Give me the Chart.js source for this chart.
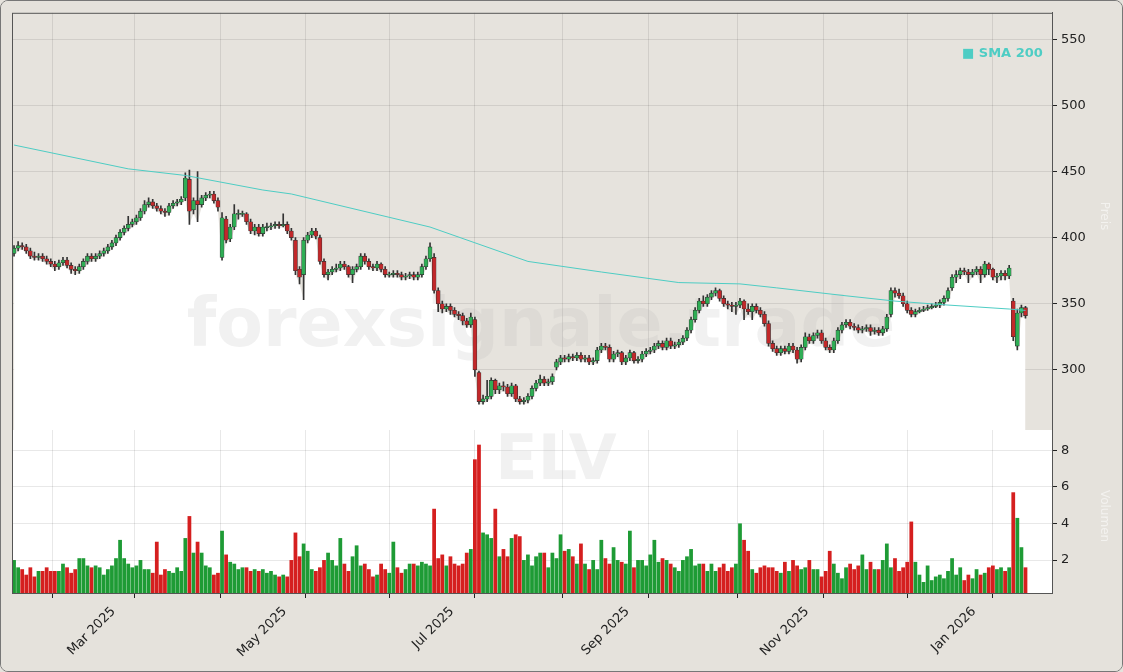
<!DOCTYPE html>
<html><head><meta charset="utf-8">
<script src="https://cdn.jsdelivr.net/npm/chart.js@4/dist/chart.umd.min.js"></script>
<style>
html,body{margin:0;padding:0;background:#e5e2dc;}
#wrap{position:relative;width:1123px;height:672px;box-sizing:border-box;border:1px solid #777;border-radius:8px;overflow:hidden;background:#e5e2dc;}
canvas{display:block;}
</style></head><body>
<div id="wrap"><canvas id="c" width="1121" height="670"></canvas></div>
<script>
const openP=[388,392,394,393,390,386,385,386,384,382,380,378,381,383,379,376,375,378,382,386,
384,386,388,390,393,396,400,404,407,410,412,415,420,425,427,424,422,420,419,424,
426,427,430,444,421,428,425,430,432,433,428,385,414,399,408,418,418,418,412,405,
408,403,408,408,409,410,409,410,405,398,376,372,398,402,405,400,382,372,374,376,
377,380,378,372,376,378,386,382,378,377,380,376,372,372,373,372,370,371,372,370,
372,378,384,385,360,350,346,348,345,342,341,337,334,338,298,276,278,280,292,285,
288,287,282,288,278,276,277,280,286,290,293,290,291,302,306,309,308,310,309,311,
308,309,306,307,315,318,317,308,312,313,306,309,313,307,308,312,314,315,318,320,
317,322,318,319,321,324,330,338,345,352,350,355,358,360,354,350,349,348,349,352,
346,344,348,345,342,335,320,316,313,316,314,318,315,308,317,325,322,326,328,322,
317,315,322,330,334,336,333,332,330,331,332,329,330,328,331,342,360,358,356,350,
345,342,344,345,346,347,348,349,351,354,362,370,372,375,374,372,374,376,372,380,
376,370,371,373,371,352,318,343,347];
const highP=[394,397,396,395,392,389,388,388,386,384,382,383,385,385,381,378,380,384,388,388,
388,390,392,395,398,402,406,409,416,414,417,422,428,430,429,426,424,422,426,428,
429,431,449,451,430,450,432,434,435,435,430,419,416,410,425,421,420,419,414,410,
410,410,411,411,412,412,418,412,407,400,378,400,404,407,407,402,384,376,378,380,
382,382,379,378,380,388,388,384,380,382,381,378,374,375,375,374,373,374,374,374,
380,386,396,388,362,352,350,350,347,344,343,339,343,340,299,281,292,294,293,290,
291,289,290,289,280,279,282,288,292,296,295,293,297,308,311,311,312,312,313,313,
311,311,309,317,320,320,319,314,315,314,311,315,314,310,314,316,317,320,322,322,
324,324,321,323,326,332,340,347,354,356,357,360,362,361,356,352,351,351,354,353,
350,350,350,347,344,337,322,318,318,318,320,320,317,319,328,327,328,330,330,324,
319,324,332,336,338,338,335,334,333,334,334,332,332,333,342,362,362,361,358,352,
347,346,347,348,349,350,351,353,356,362,372,375,377,377,376,376,378,378,382,381,
377,373,375,375,379,354,346,349,348];
const lowP=[386,390,391,388,384,383,383,382,380,378,375,376,379,377,373,372,373,376,380,382,
382,384,386,388,391,394,398,402,405,408,410,413,418,423,422,420,418,416,417,422,
424,425,428,410,418,412,423,428,430,426,420,383,396,397,406,414,416,410,403,402,
401,401,405,406,407,407,408,403,398,372,365,353,396,400,399,380,370,368,372,374,
375,376,370,366,374,376,380,376,375,375,374,370,370,370,370,368,368,369,368,368,
370,376,382,358,344,343,344,342,340,338,334,332,332,295,274,274,276,278,282,282,
284,280,280,276,274,274,275,278,284,288,288,288,289,300,304,306,306,307,307,306,
306,304,304,305,313,315,306,306,310,304,304,307,305,305,306,310,312,313,316,315,
315,316,316,317,319,322,328,336,343,348,348,353,356,352,348,346,344,342,347,338,
342,338,343,340,333,318,314,311,311,312,312,313,305,306,315,320,320,324,320,315,
313,313,320,328,332,331,330,328,328,329,326,327,326,326,329,340,355,354,348,343,
340,340,343,344,345,346,347,347,349,352,360,366,369,372,366,370,372,366,370,372,
368,366,368,368,369,322,315,340,339];
const closeP=[392,394,393,390,386,385,386,384,382,380,378,381,383,379,376,375,378,382,386,384,
386,388,390,393,396,400,404,407,410,412,415,420,425,427,424,422,420,419,424,426,
427,429,445,420,428,425,430,432,433,428,423,415,398,408,418,418,418,412,405,408,
403,408,408,409,410,409,410,405,400,375,370,398,402,405,401,382,372,374,376,377,
380,378,372,376,378,386,382,378,377,380,376,372,372,373,372,370,371,372,370,372,
378,384,393,360,350,346,348,345,342,341,337,334,340,300,276,278,280,292,285,288,
287,282,288,278,276,277,280,286,290,293,290,291,295,306,309,308,310,309,311,308,
309,306,307,315,318,317,308,312,313,306,309,313,307,308,312,314,315,318,320,317,
322,318,319,321,324,330,338,345,352,350,355,358,360,354,350,349,348,349,352,346,
344,348,345,342,335,320,316,313,316,314,318,315,308,317,325,322,326,328,322,317,
315,322,330,334,336,333,332,330,331,332,329,330,328,331,340,360,358,356,350,345,
342,344,345,346,347,348,349,351,354,360,370,372,375,374,372,374,376,372,380,376,
370,371,373,371,377,325,343,347,341];
const volumeM=[2.0,1.6,1.5,1.2,1.6,1.1,1.4,1.4,1.6,1.4,1.4,1.4,1.8,1.6,1.3,1.5,2.1,2.1,1.7,1.6,
1.7,1.6,1.2,1.5,1.7,2.1,3.1,2.1,1.8,1.6,1.7,2.0,1.5,1.5,1.3,3.0,1.2,1.5,1.4,1.3,
1.6,1.4,3.2,4.4,2.4,3.0,2.4,1.7,1.6,1.2,1.3,3.6,2.3,1.9,1.8,1.5,1.6,1.6,1.4,1.5,
1.4,1.5,1.3,1.4,1.2,1.1,1.2,1.1,2.0,3.5,2.2,2.9,2.5,1.5,1.4,1.6,2.0,2.4,2.0,1.7,
3.2,1.8,1.4,2.2,2.8,1.7,1.8,1.5,1.1,1.2,1.8,1.5,1.3,3.0,1.6,1.3,1.5,1.8,1.8,1.7,
1.9,1.8,1.7,4.8,2.1,2.3,1.7,2.2,1.8,1.7,1.8,2.4,2.6,7.5,8.3,3.5,3.4,3.2,4.8,2.2,
2.6,2.2,3.2,3.4,3.3,2.0,2.3,1.7,2.2,2.4,2.4,1.6,2.4,2.1,3.4,2.5,2.6,2.2,1.8,2.9,
1.8,1.5,2.0,1.5,3.1,2.1,1.8,2.7,2.0,1.9,1.8,3.6,1.6,2.0,2.0,1.7,2.3,3.1,1.9,2.1,
2.0,1.8,1.6,1.4,2.0,2.2,2.6,1.7,1.8,1.8,1.4,1.8,1.4,1.6,1.8,1.4,1.6,1.8,4.0,3.1,
2.5,1.5,1.3,1.6,1.7,1.6,1.6,1.4,1.3,1.9,1.4,2.0,1.7,1.5,1.6,2.0,1.5,1.5,1.1,1.4,
2.5,1.8,1.3,1.0,1.6,1.8,1.5,1.7,2.3,1.5,1.9,1.5,1.5,2.0,2.9,1.6,2.1,1.4,1.6,1.9,
4.1,1.9,1.2,0.8,1.7,0.9,1.1,1.2,1.0,1.4,2.1,1.2,1.6,0.9,1.2,1.0,1.5,1.2,1.3,1.6,
1.7,1.5,1.6,1.4,1.6,5.7,4.3,2.7,1.6];
const smaIndex=[0,28,42,61,68,102,114,126,144,163,178,187,204,216,229,244,248];
const smaValue=[470,452,447,436,433,408,395,382,374,366,365,362,356,352,349,346,345];
const holidays=['2025-02-17','2025-04-18','2025-05-26','2025-06-19','2025-07-04','2025-09-01','2025-11-27','2025-12-25','2026-01-01','2026-01-19'];
const monthNames=['Jan','Feb','Mar','Apr','May','Jun','Jul','Aug','Sep','Oct','Nov','Dec'];
const extraSlots=6;

const dates=[];
{let d=new Date(Date.UTC(2025,1,3));
 while(dates.length<closeP.length+extraSlots){const wd=d.getUTCDay();const s=d.toISOString().slice(0,10);
  if(wd!==0&&wd!==6&&!holidays.includes(s))dates.push(s);d=new Date(d.getTime()+86400000);}}
const monthStart=[];
dates.forEach((s,i)=>{if(i===0||s.slice(0,7)!==dates[i-1].slice(0,7))monthStart.push(i);});

const GREEN='#1e9b35',RED='#d51f1f';
const up=closeP.map((c,i)=>c>=openP[i]);
const candleColors=up.map(u=>u?'#2fae55':'#c2282a');
const volColors=up.map(u=>u?GREEN:RED);

function drawMarks(ctx){ctx.save();
  ctx.fillStyle='rgba(185,185,185,0.2)';ctx.textAlign='center';ctx.textBaseline='middle';
  ctx.font='bold 68px "DejaVu Sans"';ctx.fillText('forexsignale.trade',540,327);
  ctx.font='bold 62px "DejaVu Sans"';ctx.fillText('ELV',555,462);ctx.restore();}

const bgPlugin={id:'bg',
 beforeDraw(ch){const{ctx}=ch;const y=ch.scales.y,a=ch.chartArea;
  ctx.save();ctx.fillStyle='#e5e2dc';ctx.fillRect(0,0,ch.width,ch.height);
  ctx.fillStyle='#e6e3dd';ctx.fillRect(a.left,y.top,a.right-a.left,y.bottom-y.top);
  ctx.fillStyle='#ffffff';ctx.fillRect(a.left,ch.scales.yv.top,a.right-a.left,ch.scales.yv.bottom-ch.scales.yv.top);
  ctx.restore();},
 afterDatasetDraw(ch,args){if(args.index===0)drawMarks(ch.ctx);},
 afterDraw(ch){const{ctx}=ch;const a=ch.chartArea;ctx.save();
  ctx.strokeStyle='#555';ctx.lineWidth=1;ctx.strokeRect(a.left+0.5,a.top+0.5,a.right-a.left,a.bottom-a.top);
  ctx.fillStyle='#4ecdc4';ctx.font='bold 13px "DejaVu Sans"';ctx.textBaseline='middle';ctx.textAlign='left';
  ctx.fillText('■ SMA 200',961,53);
  ctx.fillStyle='rgba(255,255,255,0.55)';ctx.font='12px "DejaVu Sans"';ctx.textAlign='center';
  ctx.translate(1103,215);ctx.rotate(Math.PI/2);ctx.fillText('Preis',0,0);ctx.restore();
  ctx.save();ctx.fillStyle='rgba(255,255,255,0.55)';ctx.font='12px "DejaVu Sans"';ctx.textAlign='center';
  ctx.translate(1100,515);ctx.rotate(Math.PI/2);ctx.fillText('Volumen',0,0);ctx.restore();}};

new Chart(document.getElementById('c'),{
 data:{labels:dates,datasets:[
  {type:'line',label:'area',data:lowP,yAxisID:'y',fill:'start',backgroundColor:'#ffffff',borderWidth:0,pointRadius:0,tension:0,order:5},
  {type:'line',label:'SMA 200',data:smaIndex.map((k,j)=>({x:dates[k],y:smaValue[j]})),yAxisID:'y',borderColor:'#4ecdc4',borderWidth:1,pointRadius:0,fill:false,order:0},
  {type:'bar',label:'wick',data:lowP.map((l,i)=>[l,highP[i]]),yAxisID:'y',backgroundColor:'#333',barThickness:1,grouped:false,order:2},
  {type:'bar',label:'body',data:openP.map((o,i)=>o===closeP[i]?[o-0.4,o+0.4]:[o,closeP[i]]),yAxisID:'y',backgroundColor:candleColors,borderColor:'#333',borderWidth:0.6,borderSkipped:false,barThickness:4,grouped:false,order:1},
  {type:'bar',label:'Volume',data:volumeM,yAxisID:'yv',backgroundColor:volColors,barPercentage:0.92,categoryPercentage:1,grouped:false,order:3}
 ]},
 options:{responsive:false,animation:false,
  layout:{padding:{left:11,top:9,right:0,bottom:0}},
  plugins:{legend:{display:false},tooltip:{enabled:false}},
  scales:{
   x:{type:'category',offset:true,
    afterBuildTicks(s){s.ticks=monthStart.map(v=>({value:v}));},
    afterFit(s){s.height=78;},
    grid:{color:'rgba(0,0,0,0.09)',drawTicks:true,tickLength:5,tickColor:'#222'},
    border:{color:'#555'},
    ticks:{autoSkip:false,maxRotation:45,minRotation:45,labelOffset:22,padding:6,color:'#222',font:{family:'DejaVu Sans',size:13},
     callback(v){const s=dates[v];const m=+s.slice(5,7)-1;return (m%2===0)?monthNames[m]+' '+s.slice(0,4):'';}}},
   y:{position:'right',stack:'p',stackWeight:2.56,min:254.5,max:570,
    afterBuildTicks(s){s.ticks=[300,350,400,450,500,550].map(v=>({value:v}));},
    afterFit(s){s.width=70;},
    grid:{color:'rgba(0,0,0,0.09)',tickLength:5,tickColor:'#222'},border:{color:'#555'},
    ticks:{color:'#222',font:{family:'DejaVu Sans',size:13},padding:4}},
   yv:{position:'right',stack:'p',stackWeight:1,min:0.2,max:9.1,offset:false,
    afterBuildTicks(s){s.ticks=[2,4,6,8].map(v=>({value:v}));},
    afterFit(s){s.width=70;},
    grid:{color:'rgba(0,0,0,0.09)',tickLength:5,tickColor:'#222'},border:{color:'#555'},
    ticks:{color:'#222',font:{family:'DejaVu Sans',size:13},padding:4}}
  }},
 plugins:[bgPlugin]});
</script></body></html>
